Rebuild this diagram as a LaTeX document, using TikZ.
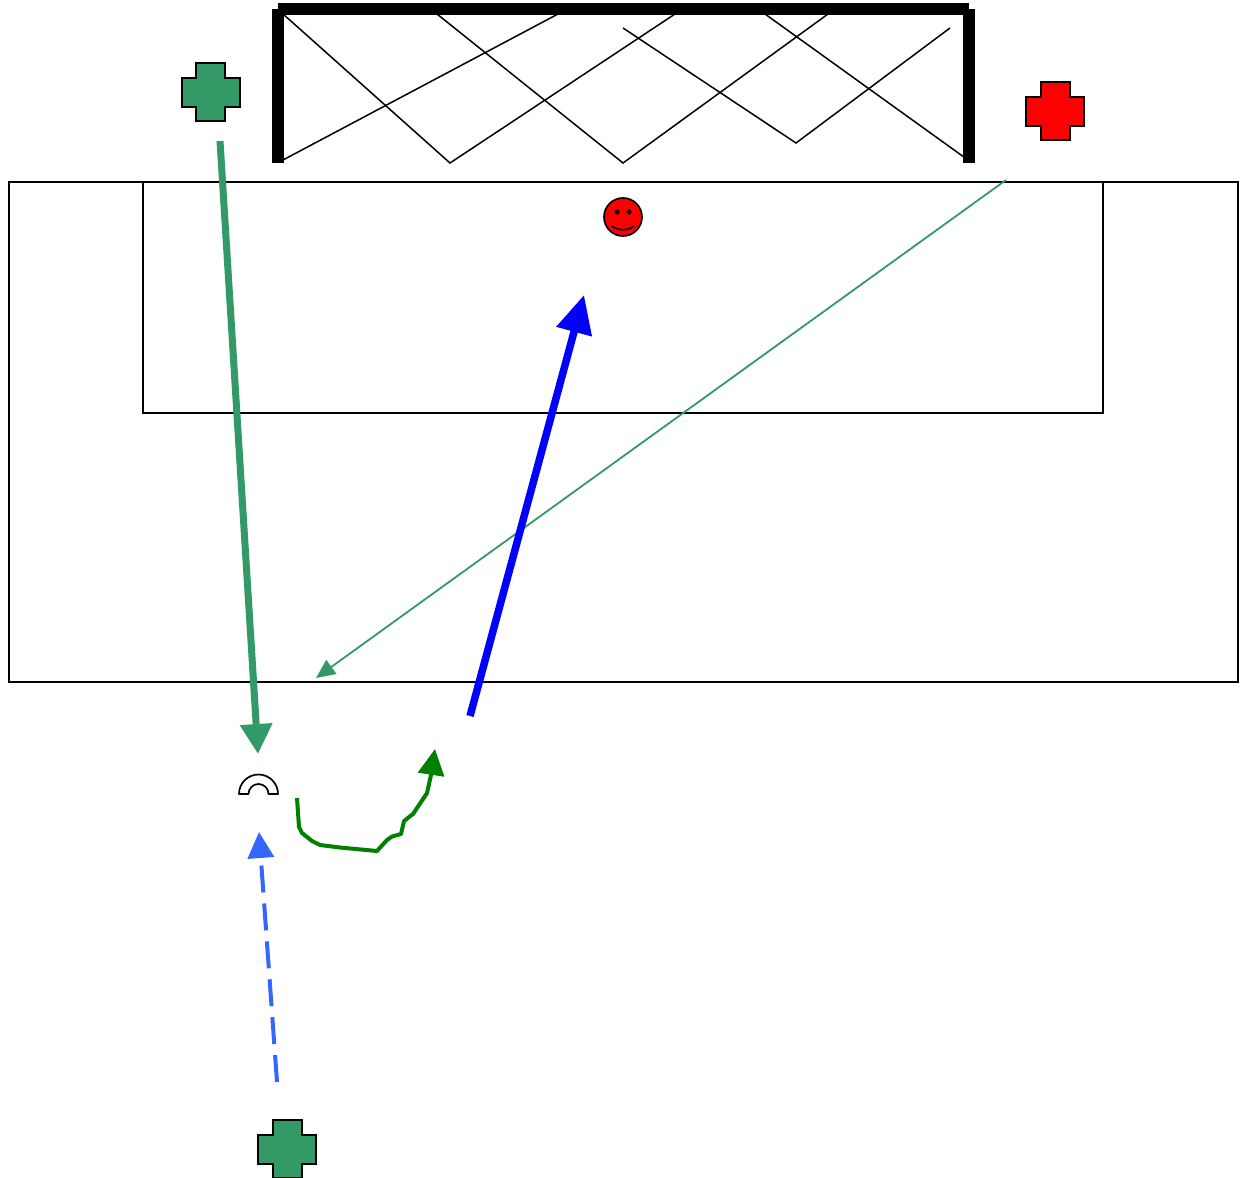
\documentclass[tikz,border=0pt]{standalone}
\usetikzlibrary{arrows.meta}
\definecolor{seagreen}{HTML}{339966}
\definecolor{royal}{HTML}{3366FF}
\definecolor{darkgr}{HTML}{008000}
\tikzset{
  x=1pt,y=-1pt,
  fieldline/.style={draw=black,line width=1.6pt},
  netline/.style={draw=black,line width=1.5pt,line join=miter},
  postline/.style={draw=black,line width=12pt,line cap=butt},
  crossshape/.pic={\path[draw=black,line width=2pt,fill=#1,line join=miter]
    (-14.5,-29)--(14.5,-29)--(14.5,-14.5)--(29,-14.5)--(29,14.5)--(14.5,14.5)--(14.5,29)
    --(-14.5,29)--(-14.5,14.5)--(-29,14.5)--(-29,-14.5)--(-14.5,-14.5)--cycle;},
  thickgreen/.style={draw=seagreen,line width=7pt,-{Triangle[length=30pt,width=31pt,fill=seagreen]}},
  thingreen/.style={draw=seagreen,line width=1.8pt,-{Triangle[length=19pt,width=17pt,fill=seagreen]}},
  thickblue/.style={draw=blue,line width=7.5pt,-{Triangle[length=38pt,width=35pt,fill=blue]}},
  dashblue/.style={draw=royal,line width=4pt,dash pattern=on 27pt off 11pt,-{Triangle[length=26pt,width=26pt,fill=royal]}},
  wiggle/.style={draw=darkgr,line width=4pt,line join=round,-{Triangle[length=26pt,width=26pt,fill=darkgr]}},
}
\begin{document}
\begin{tikzpicture}
\useasboundingbox (0,0) rectangle (1241,1177);
% field
\path[fieldline] (9,182) rectangle (1238,682);
\path[fieldline] (143,182) rectangle (1103,413);
% net
\path[netline] (283,14)--(450,163)--(675,14);
\path[netline] (283,160)--(558,14);
\path[netline] (437,14)--(623,163)--(828,14);
\path[netline] (623,28)--(796,143)--(950,28);
\path[netline] (765,14)--(968,160);
% goal frame
\path[postline] (277.5,9.5)--(277.5,163);
\path[postline] (969,9.5)--(969,163);
\path[postline] (278,9.5)--(968.5,9.5);
% players
\pic at (210.5,92.5) {crossshape=seagreen};
\pic at (1055,111.5) {crossshape=red};
\pic at (287,1149) {crossshape=seagreen};
% ball
\path[draw=black,line width=1.7pt,fill=red] (623,217) circle[radius=19];
\path[fill=black] (617,212) circle[radius=2.6] (629,212) circle[radius=2.6];
\path[draw=black,line width=1.7pt] (612,226) .. controls (618,231) and (628,231) .. (634,226);
% half ring
\path[draw=black,line width=1.7pt,fill=white,line join=round]
  (239,794) arc[start angle=-180,end angle=0,radius=19.5] -- (268.5,794)
  arc[start angle=0,end angle=-180,radius=10] -- cycle;
% arrow ends
\coordinate (a1) at (220,141);   \coordinate (a2) at (258,754);
\coordinate (b1) at (1006,180);  \coordinate (b2) at (316,678);
\coordinate (c1) at (470,716);   \coordinate (c2) at (584,295);
\coordinate (d1) at (277,1082);  \coordinate (d2) at (259,832);
\coordinate (e1) at (297,798);   \coordinate (e2) at (435,749);
\path[thingreen] (b1)--(b2);
\path[thickgreen] (a1)--(a2);
\path[thickblue] (c1)--(c2);
\path[dashblue] (d1)--(d2);
\path[wiggle] (e1)--(299,827)--(302,833)--(312,841)--(320,845)--(340,847.5)--(377,851)
  --(387,840)--(392,836.5)--(401,834)--(404,821)--(413,814)--(427,793)--(431,775)--(e2);
\end{tikzpicture}
\end{document}
